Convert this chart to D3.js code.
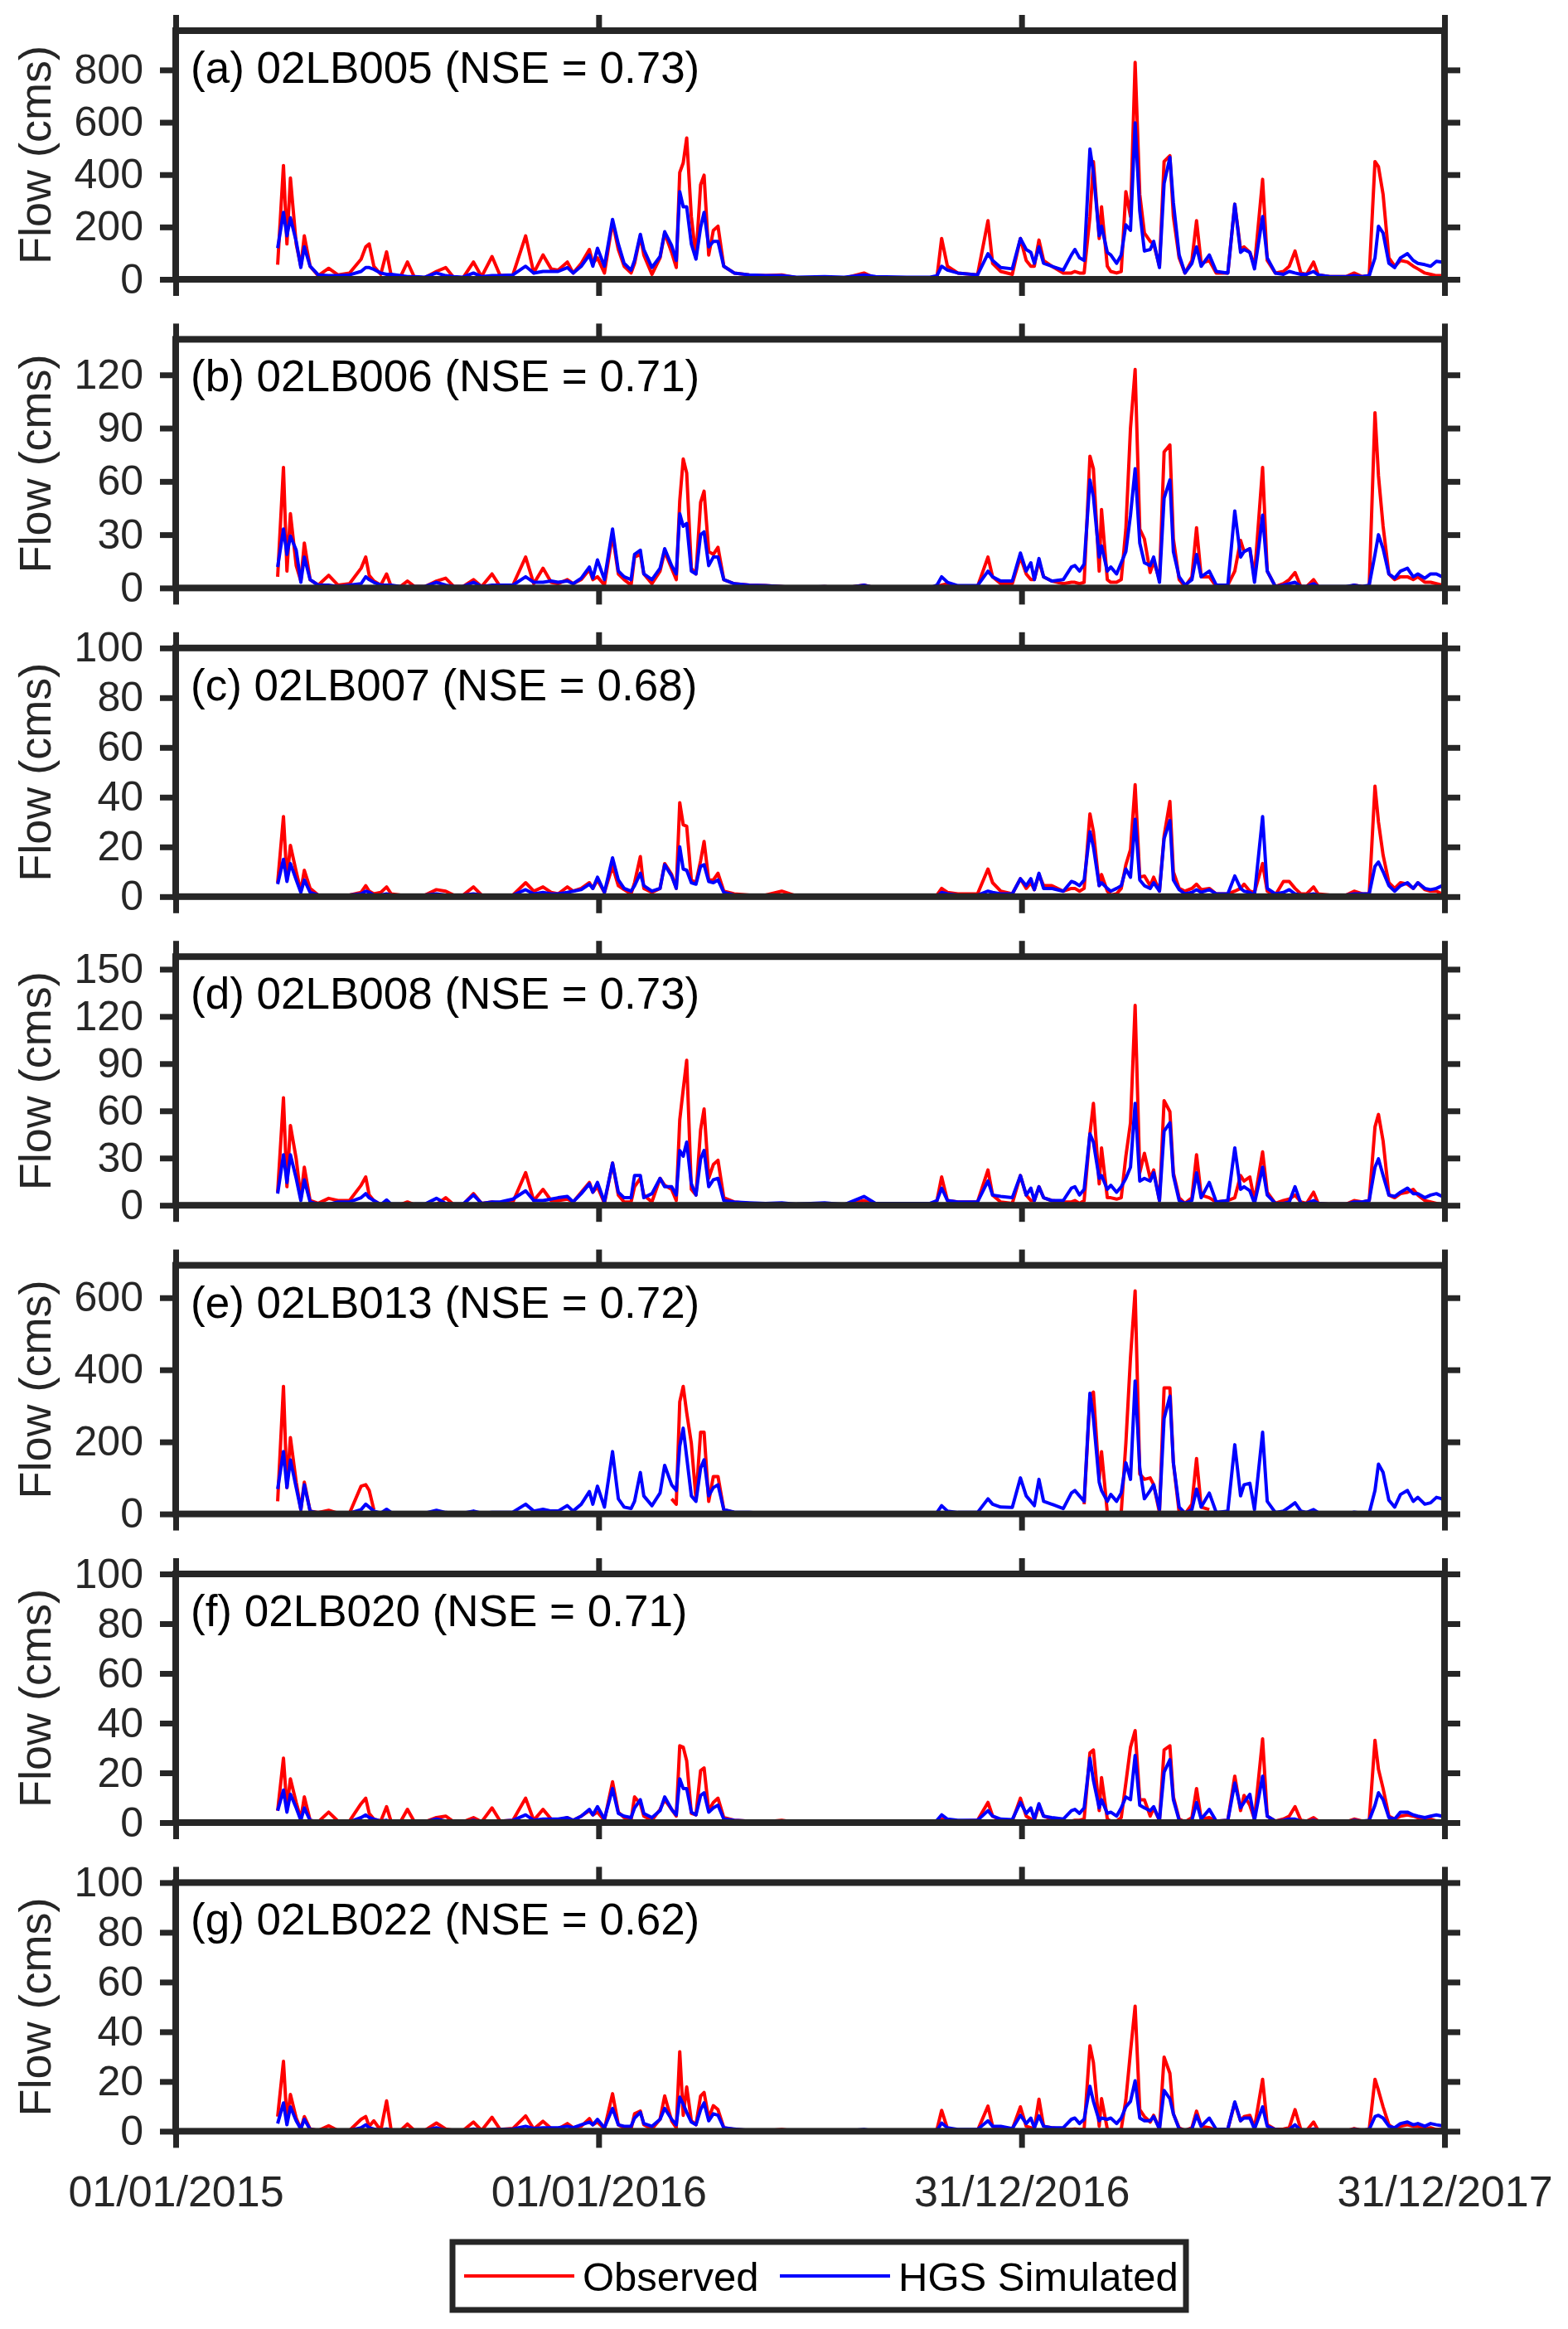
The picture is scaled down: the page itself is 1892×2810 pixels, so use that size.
<!DOCTYPE html>
<html>
<head>
<meta charset="utf-8">
<script src="https://cdn.jsdelivr.net/npm/d3@7"></script>
<style>
body { margin: 0; background: #fff; }
text { font-family: "Liberation Sans", Arial, Helvetica, sans-serif; }
</style>
</head>
<body>
<div id="chart"></div>
<script>
// days since 01/01/2015 for every sample
var days = [
	88,93,96,99,104,108,111,116,123,132,
	140,150,160,164,167,171,177,182,186,194,
	200,206,215,225,233,240,248,257,264,273,
	280,291,302,309,317,324,330,338,343,350,
	357,360,364,370,377,382,387,393,396,401,
	404,411,418,422,428,432,435,438,441,445,
	449,453,456,460,464,468,473,482,495,509,
	523,536,560,577,594,604,631,651,657,661,
	666,675,692,701,705,712,722,729,734,738,
	741,745,749,756,766,773,776,780,784,789,
	792,797,799,804,807,812,816,820,824,828,
	832,836,841,844,849,853,858,861,866,871,
	877,881,885,892,898,908,914,919,922,927,
	931,938,942,949,956,961,966,971,976,982,
	986,996,1010,1017,1024,1030,1035,1038,1042,1047,
	1052,1057,1063,1068,1072,1078,1083,1088,1093,1095
];

var obs005 = [
	56,435,135,387,135,50,166,50,14,42,
	17,24,77,124,135,50,19,105,14,10,
	66,8,6,30,45,6,6,66,10,87,
	14,17,166,24,93,40,35,66,24,61,
	114,61,82,24,219,114,50,24,61,166,
	93,19,82,177,103,45,408,445,540,240,
	82,361,398,93,187,203,50,24,17,14,
	17,6,6,4,24,4,3,3,8,156,
	50,24,17,224,61,30,19,156,72,50,
	50,150,72,50,24,24,30,24,24,240,
	450,156,277,50,30,24,30,335,240,829,
	324,177,145,135,50,450,472,240,82,24,
	72,224,61,72,24,24,287,114,124,103,
	50,382,72,24,30,50,108,24,19,66,
	17,10,10,24,10,14,450,430,324,82,
	50,72,66,50,40,24,19,14,14,10
];
var sim005 = [
	119,256,166,235,145,45,124,50,17,14,
	14,17,30,45,45,38,24,19,19,14,
	10,10,8,24,14,10,8,24,10,14,
	14,17,50,24,30,30,30,45,24,50,
	93,50,119,50,229,135,61,35,72,172,
	114,45,87,182,129,72,335,277,277,135,
	77,198,256,124,145,145,50,24,17,14,
	14,8,10,8,17,10,8,8,14,50,
	35,24,17,98,72,45,40,156,114,103,
	61,124,61,50,35,93,114,82,72,498,
	408,166,203,103,93,61,93,208,187,598,
	261,108,114,145,45,366,466,293,93,24,
	61,124,50,93,30,24,287,103,114,103,
	40,240,82,24,19,30,24,19,19,30,
	17,10,10,14,10,14,82,203,177,61,
	45,82,98,72,61,56,50,69,66,50
];

var obs006 = [
	6.3,67.9,9.5,41.8,12.6,3.9,25.3,4.7,1.6,7.1,
	1.6,2.4,11.1,17.4,7.1,3.9,1.6,7.9,0.8,0.8,
	3.9,0.8,0.8,3.9,5.5,0.8,0.8,4.7,0.8,7.9,
	0.8,1.6,17.4,2.4,11.1,3.2,2.4,4.7,2.4,4.7,
	10.3,4.7,6.3,1.6,30,7.9,4.7,1.6,17.4,18.9,
	7.9,2.4,9.5,20.5,11.1,4.7,49,72.6,64.7,11.1,
	7.9,48.2,54.5,20.5,18.9,22.9,4.7,2.4,1.6,1.3,
	0.8,0,0.8,0,1.6,0,0,0,0.8,1.6,
	2.4,0.8,0.8,17.4,6.3,2.4,2.4,17.4,7.9,4.7,
	4.7,15,6.3,3.9,2.4,3.2,3.2,2.4,3.2,74.2,
	67.1,9.5,44.2,4.7,3.2,3.2,4.7,33.2,90,123,
	33.2,27.6,8.7,15,4.7,76.6,80.5,27.6,4.7,0.8,
	6.3,33.9,6.3,6.3,0.8,1.6,9.5,26.8,20.5,22.1,
	6.3,67.9,9.5,0.8,2.4,4.7,8.7,0.8,0.8,4.7,
	0.8,0,0,1.6,0.8,0.8,98.7,63.2,34.7,7.9,
	4.7,6.3,6.3,4.7,6.3,3.2,3.2,2.4,1.6,0.8
];
var sim006 = [
	11.8,33.2,18.9,29.2,21.3,3.2,17.4,4.7,1.6,1.6,
	0.8,1.6,2.4,6.3,4.7,3.2,1.6,1.6,1.6,0.8,
	0.8,0.8,0.8,3.2,1.6,0.8,0.8,3.2,0.8,1.6,
	1.6,1.6,6.3,3.2,3.2,3.9,3.2,3.9,2.4,5.5,
	11.8,5.5,15.8,4.7,33.2,9.5,6.3,4.7,18.9,21.3,
	7.9,4.7,11.1,22.1,12.6,7.9,41.8,34.7,36.3,9.5,
	7.9,30,31.6,12.6,17.4,17.4,4.7,2.4,1.6,1.3,
	0.8,0.3,0.8,0,1.6,0,0,0,1.6,6.3,
	3.2,1.3,1.3,9.5,6.3,3.9,3.9,19.7,9.5,14.2,
	4.7,16.6,6.3,3.9,4.7,11.8,12.6,9.5,13.4,60.8,
	51.3,17.4,23.7,9.5,11.8,7.9,14.2,20.5,41,67.1,
	25.3,14.2,12.6,17.4,3.2,50.5,60.8,20.5,6.3,1.6,
	4.7,18.9,6.3,9.5,1.6,1.6,43.4,17.4,20.5,22.1,
	3.2,41,9.5,0.8,1.6,2.4,3.2,0.8,0.8,2.4,
	0.8,0.8,0.8,1.6,0.8,1.6,18.9,30,22.1,7.9,
	5.5,9.5,11.1,6.3,7.9,5.5,7.9,7.9,6.3,4.7
];

var obs007 = [
	5.6,32.2,6.7,20.6,10,2.2,10.6,3.3,0.6,0.6,
	0.6,0.6,1.7,4.4,2.2,1.1,1.7,3.9,1.1,0.6,
	0.6,0.6,0.6,2.8,2.2,0.6,0.6,3.9,0.6,0.6,
	0.6,0.6,5.6,2.2,3.9,1.7,1.1,3.9,2.2,3.3,
	5.6,3.3,6.7,1.7,12.2,4.4,2.8,1.1,5.6,16.1,
	3.3,1.7,3.3,13.3,8.9,3.3,37.8,28.9,28.3,6.7,
	5.6,14.4,22.2,6.7,6.7,9.4,2.2,1.1,0.6,0.6,
	2.2,0.2,0.2,0,0,0,0,0,0.6,3.3,
	1.7,1.1,1.1,11.1,5.6,2.2,1.1,7.2,3.3,5.6,
	2.8,8.9,4.4,4.4,2.2,3.3,3.3,2.2,3.3,33.3,
	26.1,4.4,8.9,2.2,0.6,1.1,3.3,12.8,18.9,45,
	7.8,8.3,4.4,7.8,2.2,24.4,38.3,10,3.3,2.2,
	3.3,5,2.8,3.3,1.1,1.1,2.2,3.3,5,2.2,
	1.7,13.3,2.2,0.6,6.1,6.1,3.3,1.1,1.1,3.9,
	1.1,0.6,0.6,2.2,1.1,1.1,44.4,30,16.7,5.6,
	3.3,5.6,5,3.3,5.6,2.8,2.2,2.2,1.1,0.6
];
var sim007 = [
	5,15,6.1,13.3,6.7,1.7,6.7,1.7,0.6,0.6,
	0.6,0.6,1.1,2.2,1.7,0.6,0.6,1.1,0.6,0.6,
	0.6,0.6,0.6,1.1,0.6,0.6,0.6,1.1,0.6,0.6,
	0.6,0.6,2.8,1.1,1.7,1.1,1.1,1.7,2.2,2.8,
	5,3.3,7.8,1.7,15.6,6.7,3.3,2.2,4.4,9.4,
	4.4,2.2,3.3,12.8,8.3,3.3,20,11.1,10.6,5.6,
	5,12.2,12.8,6.1,5.6,6.7,1.7,0.6,0.6,0.2,
	0.2,0.2,0.2,0,0,0,0,0,0.2,1.7,
	1.1,0.6,0.6,2.2,1.7,1.1,1.1,7.2,4.4,7.2,
	2.8,9.4,3.3,3.3,2.2,6.1,5.6,4.4,6.7,26.1,
	20,4.4,5.6,3.3,2.2,3.3,4.4,11.1,7.8,31.1,
	6.7,4.4,3.3,5.6,2.2,23.3,30.6,6.7,2.8,1.1,
	1.7,2.8,1.7,2.8,1.1,1.1,8.3,3.3,2.2,1.7,
	0.6,32.2,3.3,1.1,1.7,2.8,1.1,0.6,0.6,1.1,
	0.6,0.6,0.6,1.1,1.1,1.1,12.2,13.9,10,4.4,
	2.2,4.4,5.6,3.3,5.6,3.3,2.8,3.3,4.4,1.1
];

var obs008 = [
	8.3,68.3,11.8,50.7,29.5,4.8,24.2,3,1.2,4.4,
	3,3,12.7,18,6.5,3,0.4,2.1,0.4,0.4,
	2.1,0.4,0.4,0.4,4.8,0.4,0.4,7.4,1.2,2.1,
	1.2,2.1,20.7,3,10.1,3,3,3.9,2.1,8.3,
	14.5,8.3,11.8,1.2,26.8,6.5,2.1,2.1,11.8,17.1,
	6.5,2.1,17.1,12.7,10.1,3,54.2,73.6,92.1,10.1,
	6.5,48,61.2,17.1,25.9,28.6,4.8,2.1,1.2,0.7,
	1.2,0,0.7,0,3,0,0.4,0.4,3,18,
	3,2.1,2.1,22.4,6.5,2.1,1.2,18.9,6.5,3,
	3,11.8,4.8,3,2.1,2.1,3,1.2,3,45.4,
	64.8,13.6,36.5,4.8,4.8,3.9,4.8,31.2,52.4,127,
	20.7,33,17.1,22.4,3,66.5,59.5,20.7,4.8,1.2,
	4.8,32.1,6.5,4.8,2.1,3,4.8,18.9,15.4,18,
	3,33.9,8.3,1.2,3,3.9,6.5,2.1,1.2,8.3,
	1.2,0.7,0.7,3,2.1,3,49.8,57.7,40.9,6.5,
	4.8,7.4,8.3,10.1,6.5,3,2.1,1.2,0.4,0.2
];
var sim008 = [
	7.4,32.1,14.5,32.1,17.1,3,16.2,2.1,0.7,0.7,
	2.1,2.1,4.8,7.4,4.8,3,0.4,3.4,0.7,0.7,
	0.4,0.7,0.7,4.4,1.2,0.7,0.7,6.5,1.2,2.1,
	2.1,3.9,9.2,3,3,3.9,4.8,5.6,2.1,7.4,
	13.6,8.3,14.5,2.1,26.8,8.3,4.8,4.8,18.9,18.9,
	4.8,7.4,17.1,11.8,11.8,6.5,34.8,31.2,40.1,13.6,
	6.5,29.5,34.8,11.8,16.2,17.1,3,2.1,1.6,1.2,
	1.6,0.7,1.6,0.4,5.6,1.2,1.2,1.2,3,10.9,
	3,2.1,2.1,15.4,6.5,5.6,4.8,18.9,6.5,10.9,
	3,11.8,4.8,3,3,10.9,11.8,6.5,10.1,45.4,
	40.1,17.1,18.9,10.1,12.7,8.3,11.8,17.1,24.2,64.8,
	15.4,17.1,15.4,20.7,3,47.1,52.4,18.9,3,1.2,
	3,20.7,4.8,14.5,2.1,3,36.5,10.1,11.8,9.2,
	1.2,24.2,6.5,1.2,1.2,2.1,11.8,1.2,1.2,3,
	1.2,0.7,0.7,2.1,2.1,3,24.2,29.5,18.9,6.5,
	5.6,8.3,10.9,7.4,7.4,4.8,6.5,7.4,5.6,3.9
];

// observed record at 02LB013 has gaps (null = no data)
var obs013 = [
	35,354,73,212,88,12,88,8,4,10,
	2,2,77,81,65,12,null,null,null,null,
	null,null,null,null,null,null,null,null,null,null,
	null,null,null,null,null,null,null,null,null,null,
	null,null,null,null,null,null,null,null,null,null,
	null,null,null,null,42,27,311,354,281,196,
	42,227,227,35,104,104,12,4,null,null,
	null,null,null,null,null,null,null,null,null,null,
	null,null,null,null,null,null,null,null,null,null,
	null,null,null,null,null,null,null,null,27,327,
	338,96,173,4,0,0,4,196,434,619,
	111,96,100,81,4,350,350,142,4,0,
	27,154,19,12,null,null,null,null,null,null,
	null,null,null,null,null,null,null,null,null,null,
	null,null,null,null,null,null,null,null,null,null,
	null,null,null,null,null,null,null,null,null,null
];
var sim013 = [
	69,173,73,150,73,12,81,8,2,2,
	2,2,12,27,19,8,2,13,4,2,
	2,2,2,10,4,2,2,8,2,4,
	4,5,27,8,13,8,8,23,8,27,
	62,27,77,19,173,42,19,15,35,115,
	50,23,58,135,81,65,188,238,158,50,
	35,127,150,50,73,81,12,5,4,2,
	2,1,2,1.5,2,1,1,1,4,23,
	8,4,4,42,27,19,18,100,50,35,
	23,96,35,27,15,58,65,50,35,335,
	265,88,65,35,54,35,58,142,96,369,
	127,42,65,81,12,265,327,142,19,2,
	12,69,19,58,4,8,192,50,81,85,
	12,227,35,4,8,19,31,8,4,12,
	4,0,0,5,2,2,65,138,115,38,
	19,54,65,35,46,27,31,46,42,23
];

var obs020 = [
	4.8,25.9,5.9,17.6,8.1,1.4,10.3,0.9,0.3,4.2,
	0.6,0.6,7.6,9.8,3.7,1.4,0.6,6.4,0.3,0.3,
	5.3,0.3,0.3,2,2.6,0.3,0.3,2,0.3,5.9,
	0.6,0.9,9.8,0.9,5.3,1.4,0.9,2,0.9,2.6,
	4.8,3.1,4.2,0.9,16.4,4.2,2,0.9,10.3,7.6,
	2.6,0.9,5.3,9.2,5.3,2.6,30.9,30.3,24.8,3.7,
	3.1,20.9,22,4.8,8.1,9.8,2,0.9,0.6,0.3,
	0.9,0.1,0.1,0,0.3,0,0,0,0.6,1.4,
	0.9,0.6,0.9,8.1,2.6,0.9,0.6,9.8,2.6,1.4,
	0.9,7,2.6,1.4,0.6,0.6,0.9,0.9,1.4,28.1,
	29.2,4.8,18.1,1.4,0.6,0.6,2,15.9,30.3,37,
	9.2,9.2,2.6,5.9,0.9,29.2,30.9,10.3,1.4,0.3,
	2,13.7,1.4,2,0.6,0.9,18.7,4.8,10.9,7,
	1.4,33.7,2.6,0.6,1.4,2.6,6.4,0.9,0.6,2,
	0.6,0.3,0.3,1.4,0.6,0.6,33.1,21.4,13.7,2.6,
	1.4,2.6,3.1,2.6,2,0.9,1.4,0.6,0.3,0.3
];
var sim020 = [
	4.8,13.1,4.2,11.4,5.9,0.9,5.9,0.9,0.3,0.3,
	0.3,0.3,2,3.1,2,1.4,0.6,0.9,0.3,0.3,
	0.3,0.3,0.3,1.4,0.6,0.3,0.3,0.9,0.3,0.6,
	0.6,0.9,3.1,0.9,1.4,1.4,1.4,2,0.9,2.6,
	5.3,3.1,6.4,1.4,13.7,3.7,2.6,2,5.9,9.2,
	3.7,2,4.8,10.3,5.3,3.1,17.6,13.7,13.7,4.2,
	3.1,10.9,12,4.2,5.9,7,1.4,0.9,0.6,0.3,
	0.3,0.1,0.3,0,0.3,0,0,0,0.9,3.1,
	1.4,0.9,0.9,4.8,2.6,1.4,1.2,8.1,3.7,5.9,
	1.4,7.6,2.6,2,1.4,4.8,5.3,3.7,5.9,25.9,
	17,5.9,9.2,3.7,4.2,2.6,5.9,10.3,9.2,27,
	7,5.9,4.8,6.4,0.9,20.3,25.3,9.2,0.9,0.3,
	0.9,8.1,1.4,5.3,0.6,0.9,15.9,5.9,8.1,11.4,
	0.9,18.7,2.6,0.6,0.9,1.4,1.4,0.6,0.6,0.9,
	0.6,0.3,0.3,0.9,0.6,0.9,7,12,9.2,2,
	1.4,4.2,4.2,3.1,2.6,2,2.6,3.1,2.6,1.4
];

var obs022 = [
	5.9,28.1,4.2,14.8,5.3,0.9,5.9,0.9,0.3,2.2,
	0.3,0.3,4.8,5.9,2,4.2,0.3,12.2,0.3,0.3,
	2.9,0.3,0.3,3.3,0.9,0.3,0.3,3.7,0.3,5.6,
	0.7,1.1,6.2,0.9,4,1.1,0.9,3.1,1.4,2,
	5.1,2.6,3.7,0.9,15.1,2.6,1.4,0.9,7,8.1,
	2.6,0.9,4.8,14.2,4.2,1.4,32,6.4,17.8,4.2,
	2.6,14.2,15.6,5.3,10.3,8.7,1.4,0.7,0.3,0.1,
	0.7,0,0,0,0.3,0,0,0,0.7,8.4,
	1.1,0.3,0.3,10.1,2,0.9,0.7,9.8,2,1.4,
	0.9,12.9,2,1.4,0.7,0.7,0.9,0.7,0.9,34.4,
	27.6,2,13.1,0.9,0.3,0.3,0.9,12.6,32,50.3,
	8.7,5.9,3.7,6.4,0.9,29.8,23.3,7,1.4,0.3,
	1.4,8.1,2,1.4,0.3,0.9,11.4,4.2,5.9,6.4,
	1.4,20.9,2.6,0.7,0.9,1.4,8.7,0.7,0.3,3.7,
	0.3,0.1,0.1,1.1,0.3,0.7,20.9,16.4,9.8,2.6,
	0.9,2,2.6,2,2,0.9,1.4,0.7,0.7,0.3
];
var sim022 = [
	3.1,11.4,2.6,9.8,4.2,0.9,4.8,0.7,0.3,0.3,
	0.3,0.3,1.4,2.6,1.4,0.9,0.3,0.9,0.3,0.3,
	0.3,0.3,0.3,1.4,0.3,0.3,0.3,0.9,0.3,0.7,
	0.7,0.9,2,1.1,1.4,1.4,1.4,2,1.4,2.6,
	3.7,2.6,4.8,1.4,9.2,2.6,2,2,5.3,7.6,
	3.1,2,4.8,9.2,4.8,2.6,13.7,10.9,7.6,3.7,
	2.6,8.7,11.4,4.2,7,6.4,1.4,0.9,0.3,0.2,
	0.2,0,0,0,0.7,0,0,0,0.3,3.3,
	1.4,0.7,0.7,4.2,2,2,1.1,6.4,3.1,5.3,
	1.4,6.2,2,1.4,1.4,4.8,5.3,3.1,4.8,18.1,
	12,4.2,5.3,4.8,5.3,3.1,5.3,9.8,12,20.3,
	5.3,4.2,4.2,5.9,0.9,16.4,13.1,7,0.9,0.3,
	0.9,6.4,2,5.3,0.7,0.9,11.8,4.2,5.3,5.3,
	0.9,9.8,2,0.7,0.3,0.7,2.6,0.3,0.3,0.9,
	0.3,0.1,0.1,0.7,0.3,0.7,5.9,6.4,5.3,2,
	1.4,3.1,3.7,2.6,3.1,2,3.1,2.6,2.2,1.4
];

var stations = ['02LB005', '02LB006', '02LB007', '02LB008', '02LB013', '02LB020', '02LB022'];
var letters = ['a', 'b', 'c', 'd', 'e', 'f', 'g'];
var nse = ['0.73', '0.71', '0.68', '0.73', '0.72', '0.71', '0.62'];
var yMax = [950, 140, 100, 158, 690, 100, 100];
var yTicks = [
	[0, 200, 400, 600, 800],
	[0, 30, 60, 90, 120],
	[0, 20, 40, 60, 80, 100],
	[0, 30, 60, 90, 120, 150],
	[0, 200, 400, 600],
	[0, 20, 40, 60, 80, 100],
	[0, 20, 40, 60, 80, 100]
];
var xTickDays = [0, 365, 730, 1095];
var xTickLabels = ['01/01/2015', '01/01/2016', '31/12/2016', '31/12/2017'];
var legendNames = ['Observed', 'HGS Simulated'];

var observed = [obs005, obs006, obs007, obs008, obs013, obs020, obs022];
var simulated = [sim005, sim006, sim007, sim008, sim013, sim020, sim022];

var plot = {
	left: 212,
	top: 37,
	width: 1531,
	height: 300,
	step: 372.4
};
var axisColor = '#262626';

let svg = d3.select('#chart').append('svg')
	.attr('width', 1892)
	.attr('height', 2810);
svg.append('rect').attr('width', 1892).attr('height', 2810).attr('fill', '#fff');

let t0 = Date.UTC(2015, 0, 1);
function dayToDate(d) {
	return new Date(t0 + d * 86400000);
}
let x = d3.scaleUtc()
	.domain([dayToDate(0), dayToDate(1095)])
	.range([0, plot.width]);
let xTickVals = xTickDays.map(dayToDate);

function styleAxis(a, fontSize) {
	a.attr('color', axisColor)
		.attr('font-size', fontSize)
		.attr('font-family', '"Liberation Sans", Arial, sans-serif');
	a.select('.domain').remove();
	a.selectAll('.tick line').attr('stroke-width', 7);
}

function drawPanel(i) {
	let top = plot.top + i * plot.step;
	let g = svg.append('g').attr('transform', 'translate(' + plot.left + ',' + top + ')');
	let y = d3.scaleLinear().domain([0, yMax[i]]).range([plot.height, 0]);

	g.append('clipPath').attr('id', 'clip' + i)
		.append('rect')
		.attr('x', 0).attr('y', -2)
		.attr('width', plot.width).attr('height', plot.height + 4);

	let line = d3.line()
		.defined(d => d[1] != null)
		.x(d => x(dayToDate(d[0])))
		.y(d => y(d[1]));

	let obs = days.map((d, k) => [d, observed[i][k]]);
	let sim = days.map((d, k) => [d, simulated[i][k]]);

	let lines = g.append('g').attr('clip-path', 'url(#clip' + i + ')');
	lines.append('path').datum(obs)
		.attr('d', line)
		.attr('fill', 'none')
		.attr('stroke', '#ff0000')
		.attr('stroke-width', 4)
		.attr('stroke-linejoin', 'round');
	lines.append('path').datum(sim)
		.attr('d', line)
		.attr('fill', 'none')
		.attr('stroke', '#0000ff')
		.attr('stroke-width', 4)
		.attr('stroke-linejoin', 'round');

	let axL = g.append('g')
		.call(d3.axisLeft(y).tickValues(yTicks[i]).tickSize(19).tickSizeOuter(0).tickPadding(20));
	let axR = g.append('g')
		.attr('transform', 'translate(' + plot.width + ',0)')
		.call(d3.axisRight(y).tickValues(yTicks[i]).tickSize(19).tickSizeOuter(0).tickFormat(''));
	let axT = g.append('g')
		.call(d3.axisTop(x).tickValues(xTickVals).tickSize(19).tickSizeOuter(0).tickFormat(''));
	let axB = g.append('g')
		.attr('transform', 'translate(0,' + plot.height + ')')
		.call(d3.axisBottom(x).tickValues(xTickVals).tickSize(20).tickSizeOuter(0).tickPadding(34)
			.tickFormat((d, k) => i == 6 ? xTickLabels[k] : ''));
	styleAxis(axL, 50);
	styleAxis(axR, 50);
	styleAxis(axT, 50);
	styleAxis(axB, 52);

	g.append('rect')
		.attr('width', plot.width)
		.attr('height', plot.height)
		.attr('fill', 'none')
		.attr('stroke', axisColor)
		.attr('stroke-width', 8);

	g.append('text')
		.attr('x', 18)
		.attr('y', 63)
		.attr('font-size', 53)
		.attr('fill', '#000')
		.text('(' + letters[i] + ') ' + stations[i] + ' (NSE = ' + nse[i] + ')');

	svg.append('text')
		.attr('transform', 'translate(61,' + (top + plot.height / 2) + ') rotate(-90)')
		.attr('text-anchor', 'middle')
		.attr('font-size', 54)
		.attr('fill', axisColor)
		.text('Flow (cms)');
}

for (let i = 0; i < stations.length; ++i) {
	drawPanel(i);
}

// legend
let legend = svg.append('g').attr('transform', 'translate(546,2705)');
legend.append('rect')
	.attr('width', 885)
	.attr('height', 82)
	.attr('fill', '#fff')
	.attr('stroke', axisColor)
	.attr('stroke-width', 7);
let legendColors = ['#ff0000', '#0000ff'];
let legendX = [14, 395];
for (let k = 0; k < legendNames.length; ++k) {
	legend.append('line')
		.attr('x1', legendX[k]).attr('x2', legendX[k] + 133)
		.attr('y1', 41).attr('y2', 41)
		.attr('stroke', legendColors[k])
		.attr('stroke-width', 4);
	legend.append('text')
		.attr('x', legendX[k] + 143)
		.attr('y', 59)
		.attr('font-size', 49)
		.attr('fill', '#000')
		.text(legendNames[k]);
}
</script>
</body>
</html>
